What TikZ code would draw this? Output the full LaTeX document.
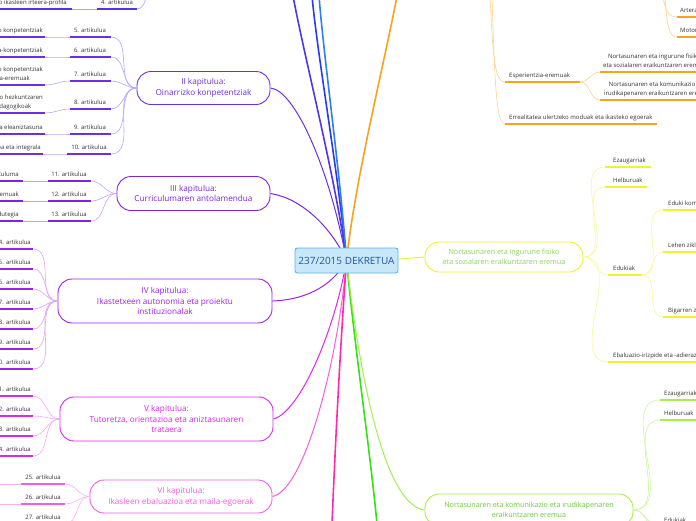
\documentclass[tikz,border=0pt]{standalone}
\usepackage{fontspec}
\setmainfont{Open Sans}
\usetikzlibrary{backgrounds}
\definecolor{c1}{HTML}{5533E6}\definecolor{c1l}{HTML}{B0A2F4}
\definecolor{c2}{HTML}{6A30E8}\definecolor{c2l}{HTML}{B7A5F5}
\definecolor{c3}{HTML}{7D24E0}\definecolor{c3l}{HTML}{C6A2F2}
\definecolor{c4}{HTML}{9C22EA}\definecolor{c4l}{HTML}{DBA6F6}
\definecolor{c5}{HTML}{D52AE8}\definecolor{c5l}{HTML}{F0A8F6}
\definecolor{c6}{HTML}{F060E0}\definecolor{c6l}{HTML}{F8B2EE}
\definecolor{pinkb}{HTML}{FF2AA8}\definecolor{greenb}{HTML}{35E01A}
\definecolor{lime}{HTML}{A6EE48}\definecolor{limel}{HTML}{CDF5A0}
\definecolor{yel}{HTML}{F2F22A}\definecolor{yell}{HTML}{F7F79A}
\definecolor{ora}{HTML}{F9A21E}\definecolor{oral}{HTML}{FFD28C}
\definecolor{blu1}{HTML}{2A3AF0}\definecolor{blu2}{HTML}{2F7DF7}
\definecolor{ytext}{HTML}{8CD35A}\definecolor{gtext}{HTML}{6CC93E}
\definecolor{cfill}{HTML}{C8E7F8}\definecolor{cborder}{HTML}{5CB3E8}\definecolor{ctext}{HTML}{2255A5}
\definecolor{leaftxt}{HTML}{333333}
\newcommand{\uline}[5]{\coordinate (#1w) at (#2,#4); \coordinate (#1e) at (#3,#4); \draw[ul,#5] (#1w) -- (#1e);}
\begin{document}
\begin{tikzpicture}[x=1pt,y=-1pt,
  every node/.style={inner sep=0pt},
  lt/.style={font=\fontsize{6}{8.5}\selectfont, text depth=1.2pt, text=leaftxt},
  ul/.style={line width=1.6pt},
  cn/.style={line width=0.6pt},
  br/.style={line width=1pt},
  thick br/.style={line width=1.6pt},
  kap/.style={draw, line width=0.9pt, rounded corners=14pt, fill=white, align=center, font=\fontsize{8.2}{10.8}\selectfont}]
\useasboundingbox (0,0) rectangle (696,520);

% central node
\node[draw=cborder, fill=cfill, line width=0.9pt, rounded corners=2.5pt, minimum width=103pt, minimum height=25pt, text=ctext, font=\fontsize{10}{11}\selectfont] (c) at (346.5,260.5) {237/2015 DEKRETUA};

% chapter nodes
\node[kap, draw=c2, text=c2, minimum width=133pt, minimum height=33pt] (k2) at (203.5,88) {II kapitulua:\\Oinarrizko konpetentziak};
\node[kap, draw=c3, text=c3, minimum width=153pt, minimum height=34pt] (k3) at (193.5,193.5) {III kapitulua:\\Curriculumaren antolamendua};
\node[kap, draw=c4, text=c4, minimum width=214pt, minimum height=44pt] (k4) at (165,301) {IV kapitulua:\\Ikastetxeen autonomia eta proiektu\\instituzionalak};
\node[kap, draw=c5, text=c5, minimum width=213pt, minimum height=44pt] (k5) at (166.5,419) {V kapitulua:\\Tutoretza, orientazioa eta aniztasunaren\\trataera};
\node[kap, draw=c6, text=c6, minimum width=182pt, minimum height=33pt] (k6) at (181,496.5) {VI kapitulua:\\Ikasleen ebaluazioa eta maila-egoerak};
\node[kap, draw=yel, text=ytext, font=\fontsize{7.2}{9.5}\selectfont, minimum width=158pt, minimum height=30pt] (ky) at (504,257) {Nortasunaren eta ingurune fisiko\\eta sozialaren eraikuntzaren eremua};
\node[kap, draw=lime, text=gtext, font=\fontsize{7.2}{10}\selectfont, minimum width=208pt, minimum height=32pt] (kg) at (529,510) {Nortasunaren eta komunikazio eta irudikapenaren\\eraikuntzaren eremua};

% off-picture ends
\coordinate (top1) at (293,-4);
\coordinate (top2) at (312,-4);
\coordinate (top3) at (319,-4);
\coordinate (topo) at (397,-4);
\coordinate (botp) at (332,524);
\coordinate (botg) at (377,524);

\begin{pgfonlayer}{background}
\draw[thick br,c1] (c.center) .. controls (336,180) and (305,60) .. (top1);
\draw[thick br,blu1] (c.center) .. controls (338,170) and (318,60) .. (top2);
\draw[thick br,blu2] (c.center) .. controls (340,170) and (324,60) .. (top3);
\draw[thick br,ora] (c.center) .. controls (355,180) and (385,60) .. (topo);
\draw[br,c2] (k2.east) .. controls (295,90) and (330,170) .. (c.center);
\draw[br,c3] (k3.east) .. controls (300,198) and (330,225) .. (c.center);
\draw[br,c4] (k4.east) .. controls (300,300) and (330,290) .. (c.center);
\draw[br,c5] (k5.east) .. controls (300,412) and (335,330) .. (c.center);
\draw[br,c6] (k6.east) .. controls (305,490) and (338,360) .. (c.center);
\draw[thick br,pinkb] (c.center) .. controls (340,350) and (335,450) .. (botp);
\draw[thick br,greenb] (c.center) .. controls (355,350) and (370,450) .. (botg);
\draw[br,lime] (c.center) .. controls (360,380) and (385,505) .. (kg.west);
\draw[br,yel] (c.center) .. controls (400,260) and (410,258) .. (ky.west);
\end{pgfonlayer}

% I kapitulua fragment
\coordinate (k1) at (147,-5);
\uline{a4}{97}{137}{9}{c1}
\uline{b4}{0}{72}{9}{c1}
\draw[cn,c1l] (b4e) -- (a4w);
\draw[cn,c1l] (a4e) to[out=0,in=-110] (k1);
\node[lt,anchor=south] (t4) at (117,5.5) {4. artikulua};
\node[lt,anchor=south east] (s4) at (67,5.5) {Oinarrizko hezkuntzako ikasleen irteera-profila};

% II kapitulua
\uline{a5}{70}{111}{37}{c2} \uline{b5}{0}{45}{37}{c2}
\uline{a6}{70}{111}{57}{c2} \uline{b6}{0}{45}{57}{c2}
\uline{a7}{70}{111}{81}{c2} \uline{b7}{0}{45}{85}{c2}
\uline{a8}{70}{111}{109}{c2} \uline{b8}{0}{45}{113}{c2}
\uline{a9}{70}{111}{134}{c2} \uline{b9}{0}{45}{134}{c2}
\uline{a10}{67}{111}{154}{c2} \uline{b10}{0}{43}{154}{c2}
\foreach \n in {5,...,10}{
  \draw[cn,c2l] (b\n e) to[out=0,in=180] (a\n w);
  \draw[cn,c2l] (a\n e) to[out=0,in=180] (k2.west);
}
\node[lt,anchor=south] (t5) at (90,33.5) {5. artikulua};
\node[lt,anchor=south] (t6) at (90,53.5) {6. artikulua};
\node[lt,anchor=south] (t7) at (90,77.5) {7. artikulua};
\node[lt,anchor=south] (t8) at (90,105.5) {8. artikulua};
\node[lt,anchor=south] (t9) at (90,130.5) {9. artikulua};
\node[lt,anchor=south] (t10) at (89,150.5) {10. artikulua};
\node[lt,anchor=south east] (s5) at (43,33.5) {Oinarrizko konpetentziak};
\node[lt,anchor=south east] (s6) at (43,53.5) {Diziplina-konpetentziak};
\node[lt,anchor=south east,align=left] (s7) at (43,81.5) {Diziplinako konpetentziak\\eta jakintza-eremuak};
\node[lt,anchor=south east,align=left] (s8) at (43,109.5) {Derrigorrezko hezkuntzaren\\ezaugarri pedagogikoak};
\node[lt,anchor=south east] (s9) at (43,130.5) {Hizkuntza eleaniztasuna};
\node[lt,anchor=south east] (s10) at (41,150.5) {Hezkuntza inklusiboa eta integrala};

% III kapitulua
\foreach \n/\y/\s in {11/181/Curriculuma,12/201/Jakintza-eremuak,13/221/Ordutegia}{
  \uline{a\n}{48}{91}{\y}{c3}
  \uline{b\n}{0}{23}{\y}{c3}
  \draw[cn,c3l] (b\n e) -- (a\n w);
  \draw[cn,c3l] (a\n e) to[out=0,in=180] (k3.west);
  \node[lt,anchor=south] (t\n) at (69,\y-3.5) {\n. artikulua};
  \node[lt,anchor=south east] (s\n) at (19,\y-3.5) {\s};
}

% IV kapitulua
\foreach \n/\y in {14/249,15/269,16/289,17/309,18/329,19/349,20/369}{
  \uline{a\n}{0}{33}{\y}{c4}
  \draw[cn,c4l] (a\n e) to[out=0,in=180] (k4.west);
  \node[lt,anchor=south east] (t\n) at (31,\y-3.5) {\n. artikulua};
}

% V kapitulua
\foreach \n/\y in {21/396,22/416,23/436,24/456}{
  \uline{a\n}{0}{33}{\y}{c5}
  \draw[cn,c5l] (a\n e) to[out=0,in=180] (k5.west);
  \node[lt,anchor=south east] (t\n) at (31,\y-3.5) {\n. artikulua};
}

% VI kapitulua
\foreach \n/\y in {25/484,26/504,27/524}{
  \uline{a\n}{21}{65}{\y}{c6}
  \coordinate (b\n) at (-2,\y);
  \draw[cn,c6l] (b\n) -- (a\n w);
  \draw[cn,c6l] (a\n e) to[out=0,in=180] (k6.west);
  \node[lt,anchor=south] (t\n) at (43,\y-3.5) {\n. artikulua};
}

% yellow area subtree
\uline{e1}{605}{651}{167}{yel}
\uline{e2}{605}{647}{187}{yel}
\uline{e3}{608}{642}{275}{yel}
\uline{e4}{608}{700}{362}{yel}
\uline{e5}{663}{700}{210}{yel}
\uline{e6}{663}{700}{252}{yel}
\uline{e7}{663}{700}{317}{yel}
\foreach \n in {1,2,3,4}{\draw[cn,yell] (ky.east) to[out=0,in=180] (e\n w);}
\foreach \n in {5,6,7}{\draw[cn,yell] (e3e) to[out=0,in=180] (e\n w);}
\node[lt,anchor=south west] (u1) at (613,163.5) {Ezaugarriak};
\node[lt,anchor=south west] (u2) at (613,183.5) {Helburuak};
\node[lt,anchor=south west] (u3) at (613,271.5) {Edukiak};
\node[lt,anchor=south west] (u4) at (613,358.5) {Ebaluazio-irizpide eta -adierazleak};
\node[lt,anchor=south west] (u5) at (668,206.5) {Eduki komunak};
\node[lt,anchor=south west] (u6) at (668,248.5) {Lehen zikloa};
\node[lt,anchor=south west] (u7) at (668,313.5) {Bigarren zikloa};

% orange subtree (parent off picture)
\coordinate (oA) at (490,-4);
\coordinate (oB) at (492,-4);
\coordinate (oT1) at (663,-4);
\coordinate (oT2) at (665,-4);
\uline{o1}{505}{580}{82}{ora}
\uline{o2}{505}{657}{124}{ora}
\uline{o3}{600}{700}{72}{ora}
\uline{o4}{600}{700}{100}{ora}
\uline{o5}{677}{700}{17}{ora}
\uline{o6}{677}{700}{37}{ora}
\draw[cn,oral] (oA) .. controls (493,60) and (495,82) .. (o1w);
\draw[cn,oral] (oB) .. controls (495,95) and (497,124) .. (o2w);
\draw[cn,oral] (o1e) to[out=0,in=180] (o3w);
\draw[cn,oral] (o1e) to[out=0,in=180] (o4w);
\draw[cn,oral] (oT1) .. controls (665,10) and (668,17) .. (o5w);
\draw[cn,oral] (oT2) .. controls (667,30) and (670,37) .. (o6w);
\node[lt,anchor=south west] (v1) at (509,78.5) {Esperientzia-eremuak};
\node[lt,anchor=south west] (v2) at (509,120.5) {Errealitatea ulertzeko moduak eta ikasteko egoerak};
\node[lt,anchor=south west,align=center] (v3) at (603,68.5) {Nortasunaren eta ingurune fisiko\\eta sozialaren eraikuntzaren eremua};
\node[lt,anchor=south west,align=center] (v4) at (604,96.5) {Nortasunaren eta komunikazio eta\\irudikapenaren eraikuntzaren eremua};
\node[lt,anchor=south west] (v5) at (680,13.5) {Arterako konpetentzia};
\node[lt,anchor=south west] (v6) at (680,33.5) {Motor-konpetentzia};

% green area subtree
\uline{g1}{660}{700}{400}{lime}
\uline{g2}{660}{700}{420}{lime}
\uline{g3}{660}{700}{527}{lime}
\coordinate (g4) at (650,530);
\foreach \n in {1,2,3}{\draw[cn,limel] (kg.east) to[out=0,in=180] (g\n w);}
\draw[cn,limel] (kg.east) to[out=0,in=110] (g4);
\node[lt,anchor=south west] (w1) at (664,396.5) {Ezaugarriak};
\node[lt,anchor=south west] (w2) at (664,416.5) {Helburuak};
\node[lt,anchor=south west] (w3) at (664,523.5) {Edukiak};
\end{tikzpicture}
\end{document}
